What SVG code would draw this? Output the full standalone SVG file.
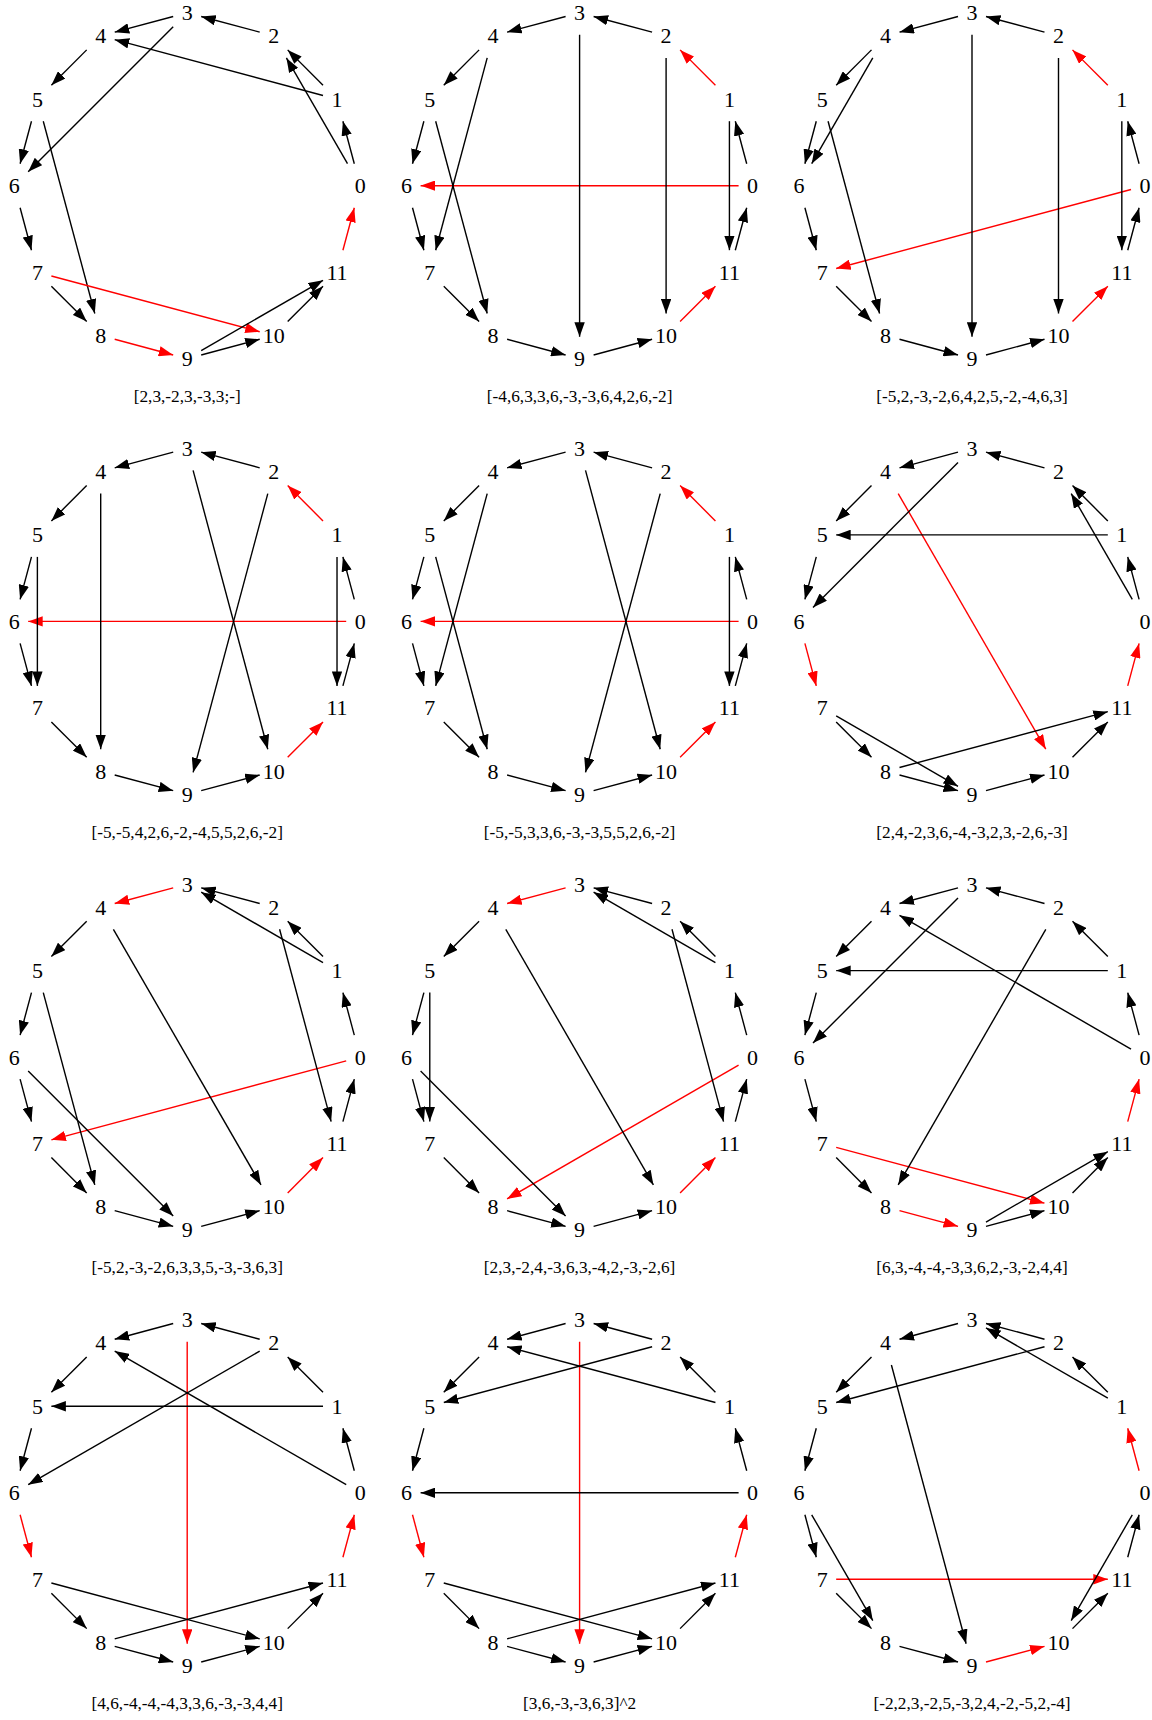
<svg xmlns="http://www.w3.org/2000/svg" width="1152" height="1720" viewBox="0 0 1152 1720">
<style>
.b{stroke:#000;stroke-width:1.4;fill:none;marker-end:url(#ab)}
.r{stroke:#f00;stroke-width:1.4;fill:none;marker-end:url(#ar)}
text{font-family:"Liberation Serif","Times New Roman",serif;text-anchor:middle;fill:#000}
.n text{font-size:22px}
text.l{font-size:17.3px}
</style>
<defs>
<marker id="ab" viewBox="0 0 14.5 10.4" markerWidth="14.5" markerHeight="10.4" refX="14.5" refY="5.2" orient="auto" markerUnits="userSpaceOnUse"><path d="M0,0L14.5,5.2L0,10.4z" fill="#000"/></marker>
<marker id="ar" viewBox="0 0 14.5 10.4" markerWidth="14.5" markerHeight="10.4" refX="14.5" refY="5.2" orient="auto" markerUnits="userSpaceOnUse"><path d="M0,0L14.5,5.2L0,10.4z" fill="#f00"/></marker>
</defs>
<rect width="1152" height="1720" fill="#fff"/>

<g id="panel1" transform="translate(187.2,185.7)">
<g id="p1-edges">
<path class="b" d="M167.1,-22L155.72,-64.5"/>
<path class="b" d="M135.82,-100.5L100.5,-135.82"/>
<path class="b" d="M72.5,-153.57L14,-169.25"/>
<path class="b" d="M-14,-169.25L-72.5,-153.57"/>
<path class="b" d="M-100.5,-135.82L-135.82,-100.5"/>
<path class="b" d="M-155.72,-64.5L-167.1,-22"/>
<path class="b" d="M-167.1,22L-155.72,64.5"/>
<path class="b" d="M-135.82,100.5L-100.5,135.82"/>
<path class="r" d="M-72.5,153.57L-14,169.25"/>
<path class="b" d="M14,169.25L72.5,153.57"/>
<path class="b" d="M100.5,135.82L135.82,100.5"/>
<path class="r" d="M155.72,64.5L167.1,22"/>
<path class="b" d="M135.82,-90.25L-72.5,-146.07"/>
<path class="b" d="M160.3,-22L99.2,-127.82"/>
<path class="b" d="M-14,-159L-159,-14"/>
<path class="b" d="M-143.93,-64.5L-92.4,127.82"/>
<path class="r" d="M-135.82,90.25L72.5,146.07"/>
<path class="b" d="M14,164.92L135.82,94.58"/>
</g>
<g id="p1-n0" class="n"><text x="173" y="7.4">0</text></g>
<g id="p1-n1" class="n"><text x="149.8" y="-79.1">1</text></g>
<g id="p1-n2" class="n"><text x="86.5" y="-142.4">2</text></g>
<g id="p1-n3" class="n"><text x="0" y="-165.6">3</text></g>
<g id="p1-n4" class="n"><text x="-86.5" y="-142.4">4</text></g>
<g id="p1-n5" class="n"><text x="-149.8" y="-79.1">5</text></g>
<g id="p1-n6" class="n"><text x="-173" y="7.4">6</text></g>
<g id="p1-n7" class="n"><text x="-149.8" y="93.9">7</text></g>
<g id="p1-n8" class="n"><text x="-86.5" y="157.2">8</text></g>
<g id="p1-n9" class="n"><text x="0" y="180.4">9</text></g>
<g id="p1-n10" class="n"><text x="86.5" y="157.2">10</text></g>
<g id="p1-n11" class="n"><text x="149.8" y="93.9">11</text></g>
<text class="l" x="0" y="216.2">[2,3,-2,3,-3,3;-]</text>
</g>

<g id="panel2" transform="translate(579.6,185.7)">
<g id="p2-edges">
<path class="b" d="M167.1,-22L155.72,-64.5"/>
<path class="r" d="M135.82,-100.5L100.5,-135.82"/>
<path class="b" d="M72.5,-153.57L14,-169.25"/>
<path class="b" d="M-14,-169.25L-72.5,-153.57"/>
<path class="b" d="M-100.5,-135.82L-135.82,-100.5"/>
<path class="b" d="M-155.72,-64.5L-167.1,-22"/>
<path class="b" d="M-167.1,22L-155.72,64.5"/>
<path class="b" d="M-135.82,100.5L-100.5,135.82"/>
<path class="b" d="M-72.5,153.57L-14,169.25"/>
<path class="b" d="M14,169.25L72.5,153.57"/>
<path class="r" d="M100.5,135.82L135.82,100.5"/>
<path class="b" d="M155.72,64.5L167.1,22"/>
<path class="r" d="M159,0L-159,0"/>
<path class="b" d="M0,-151L0,151"/>
<path class="b" d="M86.5,-127.82L86.5,127.82"/>
<path class="b" d="M149.82,-64.5L149.82,64.5"/>
<path class="b" d="M-92.4,-127.82L-143.93,64.5"/>
<path class="b" d="M-143.93,-64.5L-92.4,127.82"/>
</g>
<g id="p2-n0" class="n"><text x="173" y="7.4">0</text></g>
<g id="p2-n1" class="n"><text x="149.8" y="-79.1">1</text></g>
<g id="p2-n2" class="n"><text x="86.5" y="-142.4">2</text></g>
<g id="p2-n3" class="n"><text x="0" y="-165.6">3</text></g>
<g id="p2-n4" class="n"><text x="-86.5" y="-142.4">4</text></g>
<g id="p2-n5" class="n"><text x="-149.8" y="-79.1">5</text></g>
<g id="p2-n6" class="n"><text x="-173" y="7.4">6</text></g>
<g id="p2-n7" class="n"><text x="-149.8" y="93.9">7</text></g>
<g id="p2-n8" class="n"><text x="-86.5" y="157.2">8</text></g>
<g id="p2-n9" class="n"><text x="0" y="180.4">9</text></g>
<g id="p2-n10" class="n"><text x="86.5" y="157.2">10</text></g>
<g id="p2-n11" class="n"><text x="149.8" y="93.9">11</text></g>
<text class="l" x="0" y="216.2">[-4,6,3,3,6,-3,-3,6,4,2,6,-2]</text>
</g>

<g id="panel3" transform="translate(972,185.7)">
<g id="p3-edges">
<path class="b" d="M167.1,-22L155.72,-64.5"/>
<path class="r" d="M135.82,-100.5L100.5,-135.82"/>
<path class="b" d="M72.5,-153.57L14,-169.25"/>
<path class="b" d="M-14,-169.25L-72.5,-153.57"/>
<path class="b" d="M-100.5,-135.82L-135.82,-100.5"/>
<path class="b" d="M-155.72,-64.5L-167.1,-22"/>
<path class="b" d="M-167.1,22L-155.72,64.5"/>
<path class="b" d="M-135.82,100.5L-100.5,135.82"/>
<path class="b" d="M-72.5,153.57L-14,169.25"/>
<path class="b" d="M14,169.25L72.5,153.57"/>
<path class="r" d="M100.5,135.82L135.82,100.5"/>
<path class="b" d="M155.72,64.5L167.1,22"/>
<path class="r" d="M159,3.75L-135.82,82.75"/>
<path class="b" d="M0,-151L0,151"/>
<path class="b" d="M86.5,-127.82L86.5,127.82"/>
<path class="b" d="M149.82,-64.5L149.82,64.5"/>
<path class="b" d="M-99.2,-127.82L-160.3,-22"/>
<path class="b" d="M-143.93,-64.5L-92.4,127.82"/>
</g>
<g id="p3-n0" class="n"><text x="173" y="7.4">0</text></g>
<g id="p3-n1" class="n"><text x="149.8" y="-79.1">1</text></g>
<g id="p3-n2" class="n"><text x="86.5" y="-142.4">2</text></g>
<g id="p3-n3" class="n"><text x="0" y="-165.6">3</text></g>
<g id="p3-n4" class="n"><text x="-86.5" y="-142.4">4</text></g>
<g id="p3-n5" class="n"><text x="-149.8" y="-79.1">5</text></g>
<g id="p3-n6" class="n"><text x="-173" y="7.4">6</text></g>
<g id="p3-n7" class="n"><text x="-149.8" y="93.9">7</text></g>
<g id="p3-n8" class="n"><text x="-86.5" y="157.2">8</text></g>
<g id="p3-n9" class="n"><text x="0" y="180.4">9</text></g>
<g id="p3-n10" class="n"><text x="86.5" y="157.2">10</text></g>
<g id="p3-n11" class="n"><text x="149.8" y="93.9">11</text></g>
<text class="l" x="0" y="216.2">[-5,2,-3,-2,6,4,2,5,-2,-4,6,3]</text>
</g>

<g id="panel4" transform="translate(187.2,621.4)">
<g id="p4-edges">
<path class="b" d="M167.1,-22L155.72,-64.5"/>
<path class="r" d="M135.82,-100.5L100.5,-135.82"/>
<path class="b" d="M72.5,-153.57L14,-169.25"/>
<path class="b" d="M-14,-169.25L-72.5,-153.57"/>
<path class="b" d="M-100.5,-135.82L-135.82,-100.5"/>
<path class="b" d="M-155.72,-64.5L-167.1,-22"/>
<path class="b" d="M-167.1,22L-155.72,64.5"/>
<path class="b" d="M-135.82,100.5L-100.5,135.82"/>
<path class="b" d="M-72.5,153.57L-14,169.25"/>
<path class="b" d="M14,169.25L72.5,153.57"/>
<path class="r" d="M100.5,135.82L135.82,100.5"/>
<path class="b" d="M155.72,64.5L167.1,22"/>
<path class="r" d="M159,0L-159,0"/>
<path class="b" d="M-149.82,-64.5L-149.82,64.5"/>
<path class="b" d="M-86.5,-127.82L-86.5,127.82"/>
<path class="b" d="M5.9,-151L80.6,127.82"/>
<path class="b" d="M80.6,-127.82L5.9,151"/>
<path class="b" d="M149.82,-64.5L149.82,64.5"/>
</g>
<g id="p4-n0" class="n"><text x="173" y="7.4">0</text></g>
<g id="p4-n1" class="n"><text x="149.8" y="-79.1">1</text></g>
<g id="p4-n2" class="n"><text x="86.5" y="-142.4">2</text></g>
<g id="p4-n3" class="n"><text x="0" y="-165.6">3</text></g>
<g id="p4-n4" class="n"><text x="-86.5" y="-142.4">4</text></g>
<g id="p4-n5" class="n"><text x="-149.8" y="-79.1">5</text></g>
<g id="p4-n6" class="n"><text x="-173" y="7.4">6</text></g>
<g id="p4-n7" class="n"><text x="-149.8" y="93.9">7</text></g>
<g id="p4-n8" class="n"><text x="-86.5" y="157.2">8</text></g>
<g id="p4-n9" class="n"><text x="0" y="180.4">9</text></g>
<g id="p4-n10" class="n"><text x="86.5" y="157.2">10</text></g>
<g id="p4-n11" class="n"><text x="149.8" y="93.9">11</text></g>
<text class="l" x="0" y="216.2">[-5,-5,4,2,6,-2,-4,5,5,2,6,-2]</text>
</g>

<g id="panel5" transform="translate(579.6,621.4)">
<g id="p5-edges">
<path class="b" d="M167.1,-22L155.72,-64.5"/>
<path class="r" d="M135.82,-100.5L100.5,-135.82"/>
<path class="b" d="M72.5,-153.57L14,-169.25"/>
<path class="b" d="M-14,-169.25L-72.5,-153.57"/>
<path class="b" d="M-100.5,-135.82L-135.82,-100.5"/>
<path class="b" d="M-155.72,-64.5L-167.1,-22"/>
<path class="b" d="M-167.1,22L-155.72,64.5"/>
<path class="b" d="M-135.82,100.5L-100.5,135.82"/>
<path class="b" d="M-72.5,153.57L-14,169.25"/>
<path class="b" d="M14,169.25L72.5,153.57"/>
<path class="r" d="M100.5,135.82L135.82,100.5"/>
<path class="b" d="M155.72,64.5L167.1,22"/>
<path class="r" d="M159,0L-159,0"/>
<path class="b" d="M-92.4,-127.82L-143.93,64.5"/>
<path class="b" d="M-143.93,-64.5L-92.4,127.82"/>
<path class="b" d="M5.9,-151L80.6,127.82"/>
<path class="b" d="M80.6,-127.82L5.9,151"/>
<path class="b" d="M149.82,-64.5L149.82,64.5"/>
</g>
<g id="p5-n0" class="n"><text x="173" y="7.4">0</text></g>
<g id="p5-n1" class="n"><text x="149.8" y="-79.1">1</text></g>
<g id="p5-n2" class="n"><text x="86.5" y="-142.4">2</text></g>
<g id="p5-n3" class="n"><text x="0" y="-165.6">3</text></g>
<g id="p5-n4" class="n"><text x="-86.5" y="-142.4">4</text></g>
<g id="p5-n5" class="n"><text x="-149.8" y="-79.1">5</text></g>
<g id="p5-n6" class="n"><text x="-173" y="7.4">6</text></g>
<g id="p5-n7" class="n"><text x="-149.8" y="93.9">7</text></g>
<g id="p5-n8" class="n"><text x="-86.5" y="157.2">8</text></g>
<g id="p5-n9" class="n"><text x="0" y="180.4">9</text></g>
<g id="p5-n10" class="n"><text x="86.5" y="157.2">10</text></g>
<g id="p5-n11" class="n"><text x="149.8" y="93.9">11</text></g>
<text class="l" x="0" y="216.2">[-5,-5,3,3,6,-3,-3,5,5,2,6,-2]</text>
</g>

<g id="panel6" transform="translate(972,621.4)">
<g id="p6-edges">
<path class="b" d="M167.1,-22L155.72,-64.5"/>
<path class="b" d="M135.82,-100.5L100.5,-135.82"/>
<path class="b" d="M72.5,-153.57L14,-169.25"/>
<path class="b" d="M-14,-169.25L-72.5,-153.57"/>
<path class="b" d="M-100.5,-135.82L-135.82,-100.5"/>
<path class="b" d="M-155.72,-64.5L-167.1,-22"/>
<path class="r" d="M-167.1,22L-155.72,64.5"/>
<path class="b" d="M-135.82,100.5L-100.5,135.82"/>
<path class="b" d="M-72.5,153.57L-14,169.25"/>
<path class="b" d="M14,169.25L72.5,153.57"/>
<path class="b" d="M100.5,135.82L135.82,100.5"/>
<path class="r" d="M155.72,64.5L167.1,22"/>
<path class="r" d="M-73.8,-127.82L73.8,127.82"/>
<path class="b" d="M160.3,-22L99.2,-127.82"/>
<path class="b" d="M135.82,-86.5L-135.82,-86.5"/>
<path class="b" d="M-14,-159L-159,-14"/>
<path class="b" d="M-135.82,94.58L-14,164.92"/>
<path class="b" d="M-72.5,146.07L135.82,90.25"/>
</g>
<g id="p6-n0" class="n"><text x="173" y="7.4">0</text></g>
<g id="p6-n1" class="n"><text x="149.8" y="-79.1">1</text></g>
<g id="p6-n2" class="n"><text x="86.5" y="-142.4">2</text></g>
<g id="p6-n3" class="n"><text x="0" y="-165.6">3</text></g>
<g id="p6-n4" class="n"><text x="-86.5" y="-142.4">4</text></g>
<g id="p6-n5" class="n"><text x="-149.8" y="-79.1">5</text></g>
<g id="p6-n6" class="n"><text x="-173" y="7.4">6</text></g>
<g id="p6-n7" class="n"><text x="-149.8" y="93.9">7</text></g>
<g id="p6-n8" class="n"><text x="-86.5" y="157.2">8</text></g>
<g id="p6-n9" class="n"><text x="0" y="180.4">9</text></g>
<g id="p6-n10" class="n"><text x="86.5" y="157.2">10</text></g>
<g id="p6-n11" class="n"><text x="149.8" y="93.9">11</text></g>
<text class="l" x="0" y="216.2">[2,4,-2,3,6,-4,-3,2,3,-2,6,-3]</text>
</g>

<g id="panel7" transform="translate(187.2,1057.1)">
<g id="p7-edges">
<path class="b" d="M167.1,-22L155.72,-64.5"/>
<path class="b" d="M135.82,-100.5L100.5,-135.82"/>
<path class="b" d="M72.5,-153.57L14,-169.25"/>
<path class="r" d="M-14,-169.25L-72.5,-153.57"/>
<path class="b" d="M-100.5,-135.82L-135.82,-100.5"/>
<path class="b" d="M-155.72,-64.5L-167.1,-22"/>
<path class="b" d="M-167.1,22L-155.72,64.5"/>
<path class="b" d="M-135.82,100.5L-100.5,135.82"/>
<path class="b" d="M-72.5,153.57L-14,169.25"/>
<path class="b" d="M14,169.25L72.5,153.57"/>
<path class="r" d="M100.5,135.82L135.82,100.5"/>
<path class="b" d="M155.72,64.5L167.1,22"/>
<path class="r" d="M159,3.75L-135.82,82.75"/>
<path class="b" d="M135.82,-94.58L14,-164.92"/>
<path class="b" d="M92.4,-127.82L143.93,64.5"/>
<path class="b" d="M-73.8,-127.82L73.8,127.82"/>
<path class="b" d="M-143.93,-64.5L-92.4,127.82"/>
<path class="b" d="M-159,14L-14,159"/>
</g>
<g id="p7-n0" class="n"><text x="173" y="7.4">0</text></g>
<g id="p7-n1" class="n"><text x="149.8" y="-79.1">1</text></g>
<g id="p7-n2" class="n"><text x="86.5" y="-142.4">2</text></g>
<g id="p7-n3" class="n"><text x="0" y="-165.6">3</text></g>
<g id="p7-n4" class="n"><text x="-86.5" y="-142.4">4</text></g>
<g id="p7-n5" class="n"><text x="-149.8" y="-79.1">5</text></g>
<g id="p7-n6" class="n"><text x="-173" y="7.4">6</text></g>
<g id="p7-n7" class="n"><text x="-149.8" y="93.9">7</text></g>
<g id="p7-n8" class="n"><text x="-86.5" y="157.2">8</text></g>
<g id="p7-n9" class="n"><text x="0" y="180.4">9</text></g>
<g id="p7-n10" class="n"><text x="86.5" y="157.2">10</text></g>
<g id="p7-n11" class="n"><text x="149.8" y="93.9">11</text></g>
<text class="l" x="0" y="216.2">[-5,2,-3,-2,6,3,3,5,-3,-3,6,3]</text>
</g>

<g id="panel8" transform="translate(579.6,1057.1)">
<g id="p8-edges">
<path class="b" d="M167.1,-22L155.72,-64.5"/>
<path class="b" d="M135.82,-100.5L100.5,-135.82"/>
<path class="b" d="M72.5,-153.57L14,-169.25"/>
<path class="r" d="M-14,-169.25L-72.5,-153.57"/>
<path class="b" d="M-100.5,-135.82L-135.82,-100.5"/>
<path class="b" d="M-155.72,-64.5L-167.1,-22"/>
<path class="b" d="M-167.1,22L-155.72,64.5"/>
<path class="b" d="M-135.82,100.5L-100.5,135.82"/>
<path class="b" d="M-72.5,153.57L-14,169.25"/>
<path class="b" d="M14,169.25L72.5,153.57"/>
<path class="r" d="M100.5,135.82L135.82,100.5"/>
<path class="b" d="M155.72,64.5L167.1,22"/>
<path class="r" d="M159,8.08L-72.5,141.74"/>
<path class="b" d="M135.82,-94.58L14,-164.92"/>
<path class="b" d="M92.4,-127.82L143.93,64.5"/>
<path class="b" d="M-73.8,-127.82L73.8,127.82"/>
<path class="b" d="M-149.82,-64.5L-149.82,64.5"/>
<path class="b" d="M-159,14L-14,159"/>
</g>
<g id="p8-n0" class="n"><text x="173" y="7.4">0</text></g>
<g id="p8-n1" class="n"><text x="149.8" y="-79.1">1</text></g>
<g id="p8-n2" class="n"><text x="86.5" y="-142.4">2</text></g>
<g id="p8-n3" class="n"><text x="0" y="-165.6">3</text></g>
<g id="p8-n4" class="n"><text x="-86.5" y="-142.4">4</text></g>
<g id="p8-n5" class="n"><text x="-149.8" y="-79.1">5</text></g>
<g id="p8-n6" class="n"><text x="-173" y="7.4">6</text></g>
<g id="p8-n7" class="n"><text x="-149.8" y="93.9">7</text></g>
<g id="p8-n8" class="n"><text x="-86.5" y="157.2">8</text></g>
<g id="p8-n9" class="n"><text x="0" y="180.4">9</text></g>
<g id="p8-n10" class="n"><text x="86.5" y="157.2">10</text></g>
<g id="p8-n11" class="n"><text x="149.8" y="93.9">11</text></g>
<text class="l" x="0" y="216.2">[2,3,-2,4,-3,6,3,-4,2,-3,-2,6]</text>
</g>

<g id="panel9" transform="translate(972,1057.1)">
<g id="p9-edges">
<path class="b" d="M167.1,-22L155.72,-64.5"/>
<path class="b" d="M135.82,-100.5L100.5,-135.82"/>
<path class="b" d="M72.5,-153.57L14,-169.25"/>
<path class="b" d="M-14,-169.25L-72.5,-153.57"/>
<path class="b" d="M-100.5,-135.82L-135.82,-100.5"/>
<path class="b" d="M-155.72,-64.5L-167.1,-22"/>
<path class="b" d="M-167.1,22L-155.72,64.5"/>
<path class="b" d="M-135.82,100.5L-100.5,135.82"/>
<path class="r" d="M-72.5,153.57L-14,169.25"/>
<path class="b" d="M14,169.25L72.5,153.57"/>
<path class="b" d="M100.5,135.82L135.82,100.5"/>
<path class="r" d="M155.72,64.5L167.1,22"/>
<path class="r" d="M-135.82,90.25L72.5,146.07"/>
<path class="b" d="M159,-8.08L-72.5,-141.74"/>
<path class="b" d="M135.82,-86.5L-135.82,-86.5"/>
<path class="b" d="M-14,-159L-159,-14"/>
<path class="b" d="M73.8,-127.82L-73.8,127.82"/>
<path class="b" d="M14,164.92L135.82,94.58"/>
</g>
<g id="p9-n0" class="n"><text x="173" y="7.4">0</text></g>
<g id="p9-n1" class="n"><text x="149.8" y="-79.1">1</text></g>
<g id="p9-n2" class="n"><text x="86.5" y="-142.4">2</text></g>
<g id="p9-n3" class="n"><text x="0" y="-165.6">3</text></g>
<g id="p9-n4" class="n"><text x="-86.5" y="-142.4">4</text></g>
<g id="p9-n5" class="n"><text x="-149.8" y="-79.1">5</text></g>
<g id="p9-n6" class="n"><text x="-173" y="7.4">6</text></g>
<g id="p9-n7" class="n"><text x="-149.8" y="93.9">7</text></g>
<g id="p9-n8" class="n"><text x="-86.5" y="157.2">8</text></g>
<g id="p9-n9" class="n"><text x="0" y="180.4">9</text></g>
<g id="p9-n10" class="n"><text x="86.5" y="157.2">10</text></g>
<g id="p9-n11" class="n"><text x="149.8" y="93.9">11</text></g>
<text class="l" x="0" y="216.2">[6,3,-4,-4,-3,3,6,2,-3,-2,4,4]</text>
</g>

<g id="panel10" transform="translate(187.2,1492.8)">
<g id="p10-edges">
<path class="b" d="M167.1,-22L155.72,-64.5"/>
<path class="b" d="M135.82,-100.5L100.5,-135.82"/>
<path class="b" d="M72.5,-153.57L14,-169.25"/>
<path class="b" d="M-14,-169.25L-72.5,-153.57"/>
<path class="b" d="M-100.5,-135.82L-135.82,-100.5"/>
<path class="b" d="M-155.72,-64.5L-167.1,-22"/>
<path class="r" d="M-167.1,22L-155.72,64.5"/>
<path class="b" d="M-135.82,100.5L-100.5,135.82"/>
<path class="b" d="M-72.5,153.57L-14,169.25"/>
<path class="b" d="M14,169.25L72.5,153.57"/>
<path class="b" d="M100.5,135.82L135.82,100.5"/>
<path class="r" d="M155.72,64.5L167.1,22"/>
<path class="r" d="M0,-151L0,151"/>
<path class="b" d="M159,-8.08L-72.5,-141.74"/>
<path class="b" d="M135.82,-86.5L-135.82,-86.5"/>
<path class="b" d="M72.5,-141.74L-159,-8.08"/>
<path class="b" d="M-135.82,90.25L72.5,146.07"/>
<path class="b" d="M-72.5,146.07L135.82,90.25"/>
</g>
<g id="p10-n0" class="n"><text x="173" y="7.4">0</text></g>
<g id="p10-n1" class="n"><text x="149.8" y="-79.1">1</text></g>
<g id="p10-n2" class="n"><text x="86.5" y="-142.4">2</text></g>
<g id="p10-n3" class="n"><text x="0" y="-165.6">3</text></g>
<g id="p10-n4" class="n"><text x="-86.5" y="-142.4">4</text></g>
<g id="p10-n5" class="n"><text x="-149.8" y="-79.1">5</text></g>
<g id="p10-n6" class="n"><text x="-173" y="7.4">6</text></g>
<g id="p10-n7" class="n"><text x="-149.8" y="93.9">7</text></g>
<g id="p10-n8" class="n"><text x="-86.5" y="157.2">8</text></g>
<g id="p10-n9" class="n"><text x="0" y="180.4">9</text></g>
<g id="p10-n10" class="n"><text x="86.5" y="157.2">10</text></g>
<g id="p10-n11" class="n"><text x="149.8" y="93.9">11</text></g>
<text class="l" x="0" y="216.2">[4,6,-4,-4,-4,3,3,6,-3,-3,4,4]</text>
</g>

<g id="panel11" transform="translate(579.6,1492.8)">
<g id="p11-edges">
<path class="b" d="M167.1,-22L155.72,-64.5"/>
<path class="b" d="M135.82,-100.5L100.5,-135.82"/>
<path class="b" d="M72.5,-153.57L14,-169.25"/>
<path class="b" d="M-14,-169.25L-72.5,-153.57"/>
<path class="b" d="M-100.5,-135.82L-135.82,-100.5"/>
<path class="b" d="M-155.72,-64.5L-167.1,-22"/>
<path class="r" d="M-167.1,22L-155.72,64.5"/>
<path class="b" d="M-135.82,100.5L-100.5,135.82"/>
<path class="b" d="M-72.5,153.57L-14,169.25"/>
<path class="b" d="M14,169.25L72.5,153.57"/>
<path class="b" d="M100.5,135.82L135.82,100.5"/>
<path class="r" d="M155.72,64.5L167.1,22"/>
<path class="r" d="M0,-151L0,151"/>
<path class="b" d="M135.82,-90.25L-72.5,-146.07"/>
<path class="b" d="M72.5,-146.07L-135.82,-90.25"/>
<path class="b" d="M159,0L-159,0"/>
<path class="b" d="M-135.82,90.25L72.5,146.07"/>
<path class="b" d="M-72.5,146.07L135.82,90.25"/>
</g>
<g id="p11-n0" class="n"><text x="173" y="7.4">0</text></g>
<g id="p11-n1" class="n"><text x="149.8" y="-79.1">1</text></g>
<g id="p11-n2" class="n"><text x="86.5" y="-142.4">2</text></g>
<g id="p11-n3" class="n"><text x="0" y="-165.6">3</text></g>
<g id="p11-n4" class="n"><text x="-86.5" y="-142.4">4</text></g>
<g id="p11-n5" class="n"><text x="-149.8" y="-79.1">5</text></g>
<g id="p11-n6" class="n"><text x="-173" y="7.4">6</text></g>
<g id="p11-n7" class="n"><text x="-149.8" y="93.9">7</text></g>
<g id="p11-n8" class="n"><text x="-86.5" y="157.2">8</text></g>
<g id="p11-n9" class="n"><text x="0" y="180.4">9</text></g>
<g id="p11-n10" class="n"><text x="86.5" y="157.2">10</text></g>
<g id="p11-n11" class="n"><text x="149.8" y="93.9">11</text></g>
<text class="l" x="0" y="216.2">[3,6,-3,-3,6,3]^2</text>
</g>

<g id="panel12" transform="translate(972,1492.8)">
<g id="p12-edges">
<path class="r" d="M167.1,-22L155.72,-64.5"/>
<path class="b" d="M135.82,-100.5L100.5,-135.82"/>
<path class="b" d="M72.5,-153.57L14,-169.25"/>
<path class="b" d="M-14,-169.25L-72.5,-153.57"/>
<path class="b" d="M-100.5,-135.82L-135.82,-100.5"/>
<path class="b" d="M-155.72,-64.5L-167.1,-22"/>
<path class="b" d="M-167.1,22L-155.72,64.5"/>
<path class="b" d="M-135.82,100.5L-100.5,135.82"/>
<path class="b" d="M-72.5,153.57L-14,169.25"/>
<path class="r" d="M14,169.25L72.5,153.57"/>
<path class="b" d="M100.5,135.82L135.82,100.5"/>
<path class="b" d="M155.72,64.5L167.1,22"/>
<path class="r" d="M-135.82,86.5L135.82,86.5"/>
<path class="b" d="M135.82,-94.58L14,-164.92"/>
<path class="b" d="M72.5,-146.07L-135.82,-90.25"/>
<path class="b" d="M-80.6,-127.82L-5.9,151"/>
<path class="b" d="M-160.3,22L-99.2,127.82"/>
<path class="b" d="M160.3,22L99.2,127.82"/>
</g>
<g id="p12-n0" class="n"><text x="173" y="7.4">0</text></g>
<g id="p12-n1" class="n"><text x="149.8" y="-79.1">1</text></g>
<g id="p12-n2" class="n"><text x="86.5" y="-142.4">2</text></g>
<g id="p12-n3" class="n"><text x="0" y="-165.6">3</text></g>
<g id="p12-n4" class="n"><text x="-86.5" y="-142.4">4</text></g>
<g id="p12-n5" class="n"><text x="-149.8" y="-79.1">5</text></g>
<g id="p12-n6" class="n"><text x="-173" y="7.4">6</text></g>
<g id="p12-n7" class="n"><text x="-149.8" y="93.9">7</text></g>
<g id="p12-n8" class="n"><text x="-86.5" y="157.2">8</text></g>
<g id="p12-n9" class="n"><text x="0" y="180.4">9</text></g>
<g id="p12-n10" class="n"><text x="86.5" y="157.2">10</text></g>
<g id="p12-n11" class="n"><text x="149.8" y="93.9">11</text></g>
<text class="l" x="0" y="216.2">[-2,2,3,-2,5,-3,2,4,-2,-5,2,-4]</text>
</g>
</svg>
